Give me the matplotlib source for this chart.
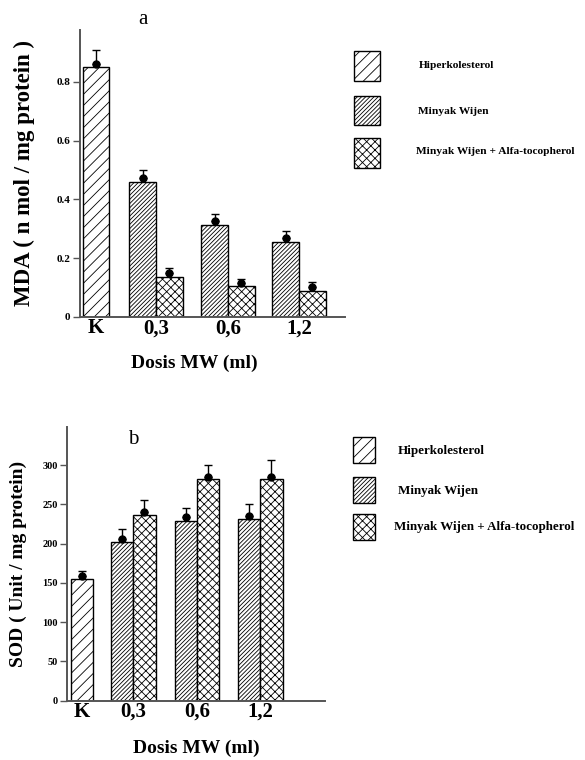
import matplotlib
matplotlib.use("Agg")
import matplotlib.pyplot as plt
from matplotlib.patches import Rectangle
import numpy as np

# data
groups = ["K", "0,3", "0,6", "1,2"]
series = ["Hiperkolesterol", "Minyak Wijen", "Minyak Wijen + Alfa-tocopherol"]

# panel a : MDA (n mol / mg protein)
mda_k = 0.85
mda_k_dot = 0.861
mda_k_top = 0.907
mda_mw = [0.46, 0.313, 0.256]
mda_mw_dot = [0.472, 0.327, 0.267]
mda_mw_top = [0.499, 0.35, 0.291]
mda_at = [0.137, 0.104, 0.09]
mda_at_dot = [0.148, 0.114, 0.103]
mda_at_top = [0.165, 0.129, 0.119]
mda_ticks = [0, 0.2, 0.4, 0.6, 0.8]
mda_ticklabels = ["0", "0.2", "0.4", "0.6", "0.8"]

# panel b : SOD (Unit / mg protein)
sod_k = 155.5
sod_k_dot = 159.3
sod_k_top = 165.7
sod_mw = [202, 229.5, 232]
sod_mw_dot = [206.5, 233.6, 235.8]
sod_mw_top = [218.8, 246, 251]
sod_at = [236, 282, 282]
sod_at_dot = [240, 285.5, 285.5]
sod_at_top = [256, 300.3, 307]
sod_ticks = [0, 50, 100, 150, 200, 250, 300]
sod_ticklabels = ["0", "50", "100", "150", "200", "250", "300"]

HATCHES = ["///", "////////", "xxxx"]
FONT = "Liberation Serif"
W, H = 585, 760

plt.rcParams["font.family"] = FONT
plt.rcParams["hatch.linewidth"] = 0.6

fig = plt.figure(figsize=(W / 100, H / 100), dpi=100)


def px_axes(x0, y_top, x1, y_base):
    return fig.add_axes([x0 / W, 1 - y_base / H, (x1 - x0) / W, (y_base - y_top) / H])


def ftext(x, y, s, **kw):
    fig.text(x / W, 1 - y / H, s, **kw)


def draw_panel(ax, bounds, xlim, ylim, k, k_dot, k_top, mw, mw_dot, mw_top,
               at, at_dot, at_top, ticks, ticklabels, ylabel, ylabel_size, tick_size):
    bounds = np.array(bounds)
    xs_mw = bounds - 0.5
    xs_at = bounds + 0.5
    ax.bar([0], [k], width=1.0, facecolor="white", edgecolor="black",
           linewidth=1.0, hatch=HATCHES[0])
    ax.bar(xs_mw, mw, width=1.0, facecolor="white", edgecolor="black",
           linewidth=1.0, hatch=HATCHES[1])
    ax.bar(xs_at, at, width=1.0, facecolor="white", edgecolor="black",
           linewidth=1.0, hatch=HATCHES[2])
    xs = np.concatenate([[0], xs_mw, xs_at])
    dots = np.concatenate([[k_dot], mw_dot, at_dot])
    tops = np.concatenate([[k_top], mw_top, at_top])
    ax.errorbar(xs, dots, yerr=[np.zeros_like(dots), tops - dots], fmt="o",
                color="black", markersize=5, elinewidth=1.0, capsize=3,
                capthick=1.0, zorder=5)
    ax.set_xlim(*xlim)
    ax.set_ylim(*ylim)
    ax.set_xticks(np.concatenate([[0], bounds]))
    ax.set_xticklabels(groups, fontsize=15, fontweight="bold")
    ax.tick_params(axis="x", length=0, pad=1)
    ax.set_yticks(ticks)
    ax.set_yticklabels(ticklabels, fontsize=tick_size, fontweight="bold")
    ax.tick_params(axis="y", length=5, width=1.0, color="#555555", pad=2)
    for s in ["top", "right"]:
        ax.spines[s].set_visible(False)
    for s in ["left", "bottom"]:
        ax.spines[s].set_color("#555555")
        ax.spines[s].set_linewidth(1.4)
    ax.set_ylabel(ylabel, fontsize=ylabel_size, fontweight="bold")


def draw_legend(boxes, text_x, text_ys, fontsize):
    leg = fig.add_axes([0, 0, 1, 1])
    leg.set_xlim(0, W)
    leg.set_ylim(H, 0)
    leg.axis("off")
    for (x0, y0, x1, y1), hatch in zip(boxes, HATCHES):
        leg.add_patch(Rectangle((x0, y0), x1 - x0, y1 - y0, facecolor="white",
                                edgecolor="black", linewidth=1.0, hatch=hatch))
    for tx, ty, label in zip(text_x, text_ys, series):
        leg.text(tx, ty, label, fontsize=fontsize, fontweight="bold",
                 va="center", ha="left")


# panel a
ax1 = px_axes(80, 30, 345, 317)
draw_panel(ax1, [2.25, 4.94, 7.61], (-0.6, 9.33), (0, 0.976),
           mda_k, mda_k_dot, mda_k_top, mda_mw, mda_mw_dot, mda_mw_top,
           mda_at, mda_at_dot, mda_at_top, mda_ticks, mda_ticklabels,
           "MDA ( n mol / mg protein )", 16.5, 8)
ax1.yaxis.set_label_coords(-45 / 265, 0.5)
ftext(143, 20, "a", fontsize=15, ha="center", va="center")
ftext(194, 363, "Dosis MW (ml)", fontsize=14, fontweight="bold",
      ha="center", va="center")
draw_legend([(354, 51, 380, 81), (354, 96, 380, 125), (354, 138, 380, 168)],
            [419, 418, 416], [65, 112, 152], 8.2)

# panel b
ax2 = px_axes(67.3, 426.7, 325, 700.7)
draw_panel(ax2, [2.31, 5.16, 8.0], (-0.65, 10.9), (0, 349),
           sod_k, sod_k_dot, sod_k_top, sod_mw, sod_mw_dot, sod_mw_top,
           sod_at, sod_at_dot, sod_at_top, sod_ticks, sod_ticklabels,
           "SOD ( Unit / mg protein)", 14, 7.5)
ax2.yaxis.set_label_coords(-40 / 257.7, 0.5)
ftext(133, 440, "b", fontsize=15, ha="center", va="center")
ftext(196, 748, "Dosis MW (ml)", fontsize=14, fontweight="bold",
      ha="center", va="center")
draw_legend([(353, 437, 375, 463), (353, 477, 375, 503), (353, 514, 375, 540)],
            [398, 398, 394], [451, 491, 527], 9.4)

fig.savefig("out.png", dpi=100)
